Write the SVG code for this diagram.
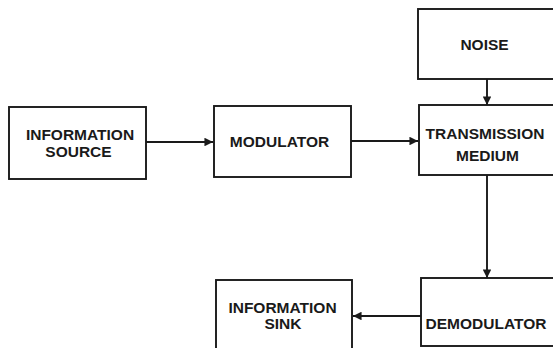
<svg xmlns="http://www.w3.org/2000/svg" width="553" height="348" viewBox="0 0 553 348">
<defs>
<style>
.box{fill:#fff;stroke:#1a1a1a;stroke-width:1.9}
.t{font-family:"Liberation Sans",Arial,sans-serif;font-weight:bold;font-size:15.5px;fill:#1a1a1a;text-anchor:middle}
.c{stroke:#1a1a1a;stroke-width:1.9;fill:none;marker-end:url(#ah)}
</style>
<marker id="ah" viewBox="0 0 10 10" refX="10" refY="5" markerWidth="4.5" markerHeight="4.5" orient="auto" markerUnits="strokeWidth">
<path d="M0,0 L10,5 L0,10 z" fill="#1a1a1a"/>
</marker>
</defs>
<rect width="553" height="348" fill="#fff"/>
<g id="connectors">
<line class="c" x1="146" y1="142" x2="213" y2="142"/>
<line class="c" x1="351" y1="141" x2="418" y2="141"/>
<line class="c" x1="487" y1="79" x2="487" y2="105"/>
<line class="c" x1="487" y1="175" x2="487" y2="278"/>
<line class="c" x1="421" y1="316" x2="353" y2="316"/>
</g>
<g id="information-source">
<rect class="box" x="9" y="107" width="137" height="72"/>
<text class="t" x="80" y="139.5">INFORMATION</text>
<text class="t" x="78.5" y="157">SOURCE</text>
</g>
<g id="modulator">
<rect class="box" x="214" y="106" width="137" height="71"/>
<text class="t" x="279.5" y="147">MODULATOR</text>
</g>
<g id="noise">
<rect class="box" x="418" y="9" width="140" height="70"/>
<text class="t" x="484.5" y="50">NOISE</text>
</g>
<g id="transmission-medium">
<rect class="box" x="419" y="105" width="140" height="70"/>
<text class="t" x="485" y="138.5">TRANSMISSION</text>
<text class="t" x="487.5" y="160.5">MEDIUM</text>
</g>
<g id="demodulator">
<rect class="box" x="421" y="278" width="140" height="68"/>
<text class="t" x="486" y="328.5">DEMODULATOR</text>
</g>
<g id="information-sink">
<rect class="box" x="216" y="280" width="136" height="80"/>
<text class="t" x="282.5" y="312.5">INFORMATION</text>
<text class="t" x="283" y="329">SINK</text>
</g>
</svg>
